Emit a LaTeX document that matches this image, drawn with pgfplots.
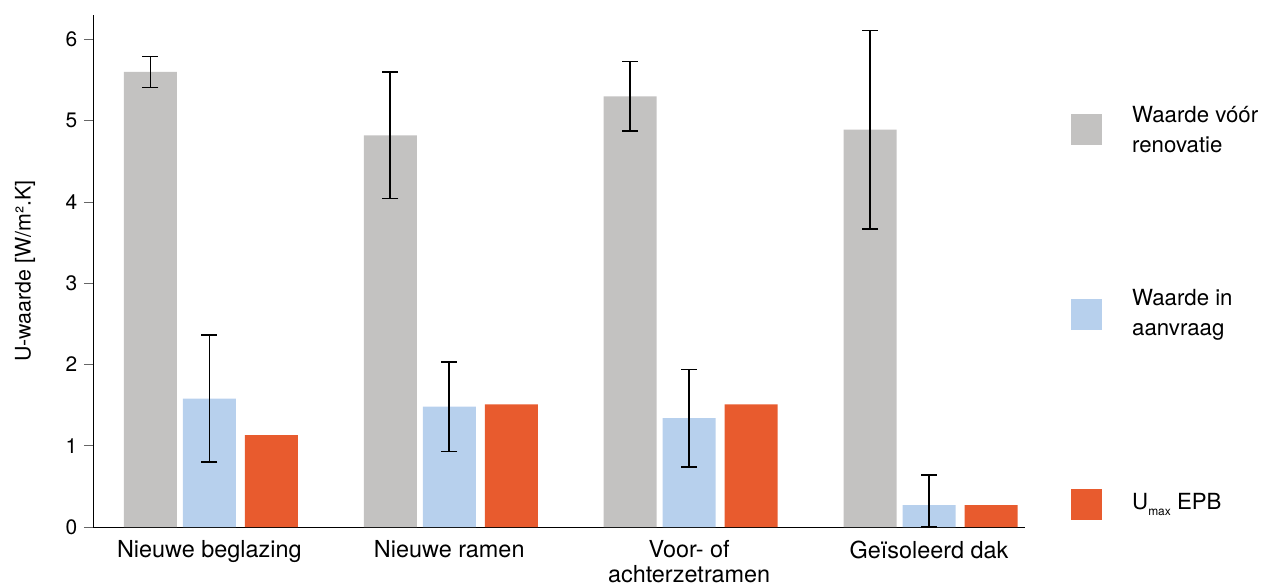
\documentclass[border=0pt]{standalone}
\usepackage{pgfplots}
\pgfplotsset{compat=1.18}
\usepackage{fontspec}
\setmainfont{TeX Gyre Heros}
\definecolor{cgray}{HTML}{C3C2C1}
\definecolor{cblue}{HTML}{B7D0ED}
\definecolor{corange}{HTML}{E85B2E}
\begin{document}
\fontsize{20}{25}\selectfont
\begin{tikzpicture}
\useasboundingbox (-93bp,-60bp) rectangle (1189bp,527bp);
\begin{axis}[
  scale only axis, width=932bp, height=512bp,
  xmin=-0.485, xmax=3.40, ymin=0, ymax=6.3,
  axis lines*=left,
  axis line style={black, line width=1pt},
  ytick={0,1,2,3,4,5,6},
  xtick={0,1,2,3},
  xticklabels={Nieuwe beglazing, Nieuwe ramen, {Voor- of\\achterzetramen}, Geïsoleerd dak},
  xticklabel style={align=center, font=\fontsize{23.5}{24.5}\selectfont, yshift=2bp},
  yticklabel style={font=\fontsize{21}{24}\selectfont},
  major x tick style={draw=none},
  major y tick style={draw=gray!80!black, line width=0.8pt},
  tick align=outside, major tick length=9bp,
  /pgf/number format/assume math mode=true,
  ylabel={U-waarde [W/m².K]},
  ylabel style={font=\fontsize{21.5}{24}\selectfont, yshift=17bp},
  ybar, bar width=53bp,
  error bars/y dir=both, error bars/y explicit,
  error bars/error mark options={rotate=90, line width=1.6pt, mark size=8bp, black},
  error bars/error bar style={line width=1.6pt, black},
  clip=false,
]
\addplot[fill=cgray, draw=none, bar shift=-59bp] coordinates {
 (0,5.60) +- (0,0.19)
 (1,4.82) +- (0,0.78)
 (2,5.30) +- (0,0.43)
 (3,4.89) +- (0,1.22)
};
\addplot[fill=cblue, draw=none, bar shift=0bp] coordinates {
 (0,1.58) +- (0,0.78)
 (1,1.48) +- (0,0.55)
 (2,1.34) +- (0,0.60)
 (3,0.27) += (0,0.37) -= (0,0.27)
};
\addplot[fill=corange, draw=none, bar shift=62bp, error bars/y dir=none] coordinates {
 (0,1.13)
 (1,1.51)
 (2,1.51)
 (3,0.27)
};
\end{axis}
\fill[cgray] (978bp,382bp) rectangle (1009bp,413bp);
\fill[cblue] (978bp,197bp) rectangle (1009bp,228bp);
\fill[corange] (978bp,7bp) rectangle (1009bp,38bp);
\node[anchor=west, align=left, inner sep=0pt, font=\fontsize{22.3}{30}\selectfont] at (1039bp,397.5bp) {Waarde vóór\\renovatie};
\node[anchor=west, align=left, inner sep=0pt, font=\fontsize{22.3}{30}\selectfont] at (1039bp,212.5bp) {Waarde in\\aanvraag};
\node[anchor=west, align=left, inner sep=0pt, font=\fontsize{22.3}{30}\selectfont] at (1039bp,22.5bp) {U\raisebox{-0.45ex}{\fontsize{12}{12}\selectfont max} EPB};
\end{tikzpicture}
\end{document}
